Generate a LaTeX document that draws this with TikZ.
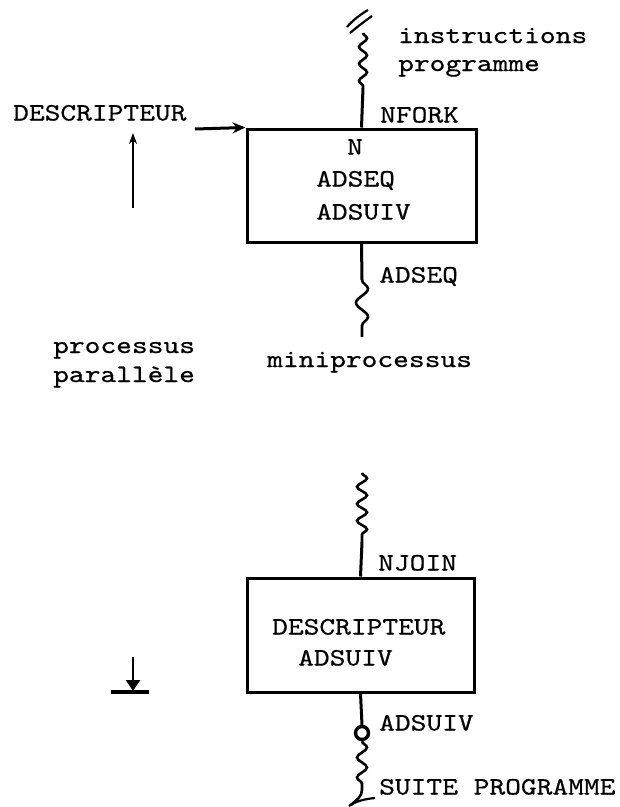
\documentclass[tikz,border=0pt]{standalone}
\usepackage{fontspec}
\setmonofont{lmmono10-regular}[Extension=.otf,FakeStretch=1.2,FakeBold=0.5]
\usetikzlibrary{arrows.meta,decorations.pathmorphing}
\begin{document}
\begin{tikzpicture}[x=1pt,y=-1pt,
  txt/.style={font=\ttfamily\fontsize{25}{31}\selectfont, inner sep=0pt, anchor=base west},
  boxnode/.style={draw, line width=3pt, minimum width=229pt, minimum height=113pt, inner sep=0pt},
  wire/.style={line width=3pt},
  wavy/.style 2 args={line width=2.6pt, decorate, decoration={snake, segment length=#1, amplitude=#2}},
  tip/.style={-{Stealth[length=13pt,width=11pt]}},
]
\useasboundingbox (0,0) rectangle (620,807);

% boxes
\node[boxnode] (b1) at (361.5,185.5) {};
\node[boxnode, minimum width=227pt, minimum height=114pt] (b2) at (360.5,635) {};

% texts
\node[txt] (tDesc) at (13,120.5) {DESCRIPTEUR};
\node[txt] (tInstr) at (398,43) {instructions};
\node[txt] (tProg) at (398,71) {programme};
\node[txt] (tNfork) at (380,122.5) {NFORK};
\node[txt] (tN) at (347,154.5) {N};
\node[txt] (tAdseq) at (316,186.5) {ADSEQ};
\node[txt] (tAdsuiv) at (316,219.5) {ADSUIV};
\node[txt] (tAdseqB) at (379,282.5) {ADSEQ};
\node[txt] (tProc) at (53,353) {processus};
\node[txt] (tPar) at (53,382) {parallèle};
\node[txt] (tMini) at (267,367) {miniprocessus};
\node[txt] (tNjoin) at (378,570.5) {NJOIN};
\node[txt] (tDesc2) at (272,634.5) {DESCRIPTEUR};
\node[txt] (tAdsuiv2) at (298,665.5) {ADSUIV};
\node[txt] (tAdsuivB) at (379,730.5) {ADSUIV};
\node[txt] (tSuite) at (379,794.5) {SUITE PROGRAMME};

% coordinates
\coordinate (w1a) at (363,33);
\coordinate (w1b) at (363,88);
\coordinate (w2a) at (362,280);
\coordinate (w2b) at (362,337);
\coordinate (w3a) at (362,473);
\coordinate (w3b) at (362,542);
\coordinate (w4b) at (362,790);
\coordinate (a1) at (195,129);
\coordinate (u1) at (133,208);
\coordinate (u2) at (133,133);
\coordinate (d1) at (133,657);
\coordinate (d2) at (133,691);
\coordinate (bar1) at (111,692);
\coordinate (bar2) at (149,692);

% top input
\draw[line width=2.2pt] (368,10) .. controls (361,14) and (353,20) .. (347,27);
\draw[line width=2.2pt] (372,16) .. controls (365,21) and (357,27) .. (350,33);
\draw[wavy={17pt}{4pt}] (w1a) -- (w1b);
\draw[wire] (w1b) -- (b1.north);

% arrows left
\draw[wire, tip] (a1) -- (b1.north west);
\draw[line width=2.6pt, -{Stealth[length=11pt,width=8pt]}] (u1) -- (u2);

% below box 1
\draw[wire] (b1.south) -- (w2a);
\draw[wavy={28pt}{6pt}] (w2a) -- (w2b);

% above box 2
\draw[wavy={17pt}{5pt}] (w3a) -- (w3b);
\draw[wire] (w3b) -- (b2.north);

% below box 2
\node[draw, circle, line width=3.4pt, minimum size=13pt, inner sep=0pt, fill=white] (c1) at (362,733) {};
\draw[wire] (b2.south) -- (c1.north);
\draw[wavy={20pt}{5pt}] (c1.south) -- (w4b);
\draw[line width=2.6pt] (w4b) .. controls (362,797) and (356,800) .. (351,805);
\draw[line width=2.2pt] (349,806) .. controls (356,801) and (365,799) .. (375,798);

% terminal arrow
\draw[line width=2.6pt, -{Triangle[length=11pt,width=14pt]}] (d1) -- (d2);
\draw[line width=3.4pt] (bar1) -- (bar2);
\end{tikzpicture}
\end{document}
